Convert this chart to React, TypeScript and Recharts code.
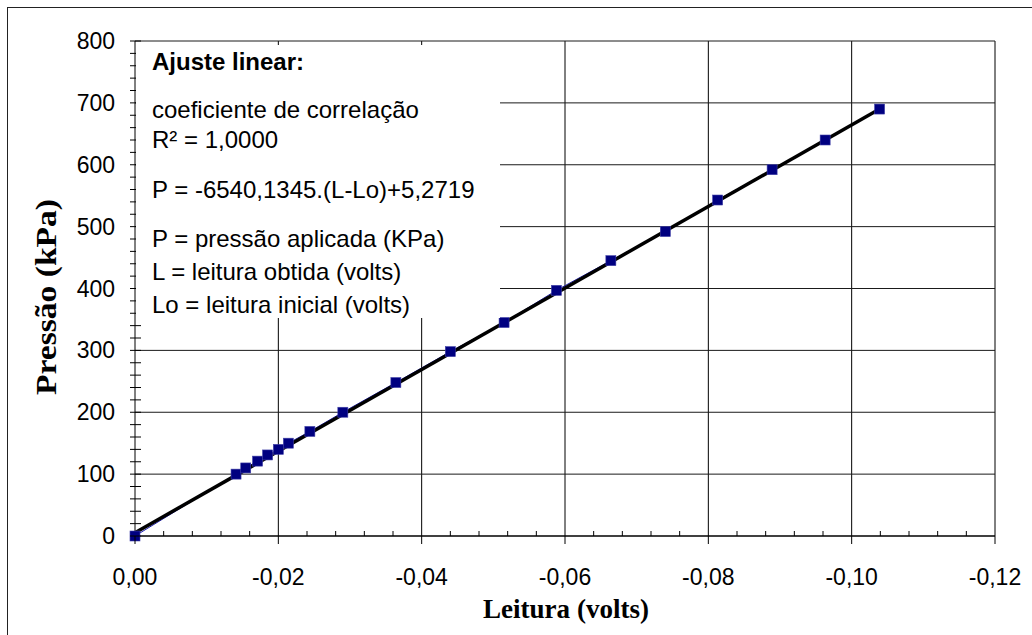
import React from 'react';
import { ComposedChart, Line, XAxis, YAxis, ReferenceLine } from 'recharts';

// Measured readings (volts) and applied pressure (kPa)
const leituraVolts = [0, -0.0141, -0.01545, -0.0171, -0.0185, -0.02, -0.0214, -0.0244, -0.029, -0.0364, -0.044, -0.0515, -0.0588, -0.0664, -0.074, -0.0813, -0.0889, -0.0963, -0.1039];
const pressaoKPa = [0, 100, 110, 121, 131, 140, 150, 169, 200, 248, 298, 345, 397, 445, 492, 543, 592, 640, 690];

// Linear fit line (end points)
const trendLeitura = [0, -0.1039];
const trendPressao = [5.3, 690];

const xMajorTicks = [0, -0.02, -0.04, -0.06, -0.08, -0.1, -0.12];
const yMajorTicks = [0, 100, 200, 300, 400, 500, 600, 700, 800];
const xAllTicks = Array.from({ length: 31 }, (_, k) => Number((-0.004 * k).toFixed(3)));
const yAllTicks = Array.from({ length: 41 }, (_, k) => k * 20);

const annotationTitle = 'Ajuste linear:';
const annotationLines = [
  'coeficiente de correlação',
  'R² = 1,0000',
  'P = -6540,1345.(L-Lo)+5,2719',
  'P = pressão aplicada (KPa)',
  'L = leitura obtida (volts)',
  'Lo = leitura inicial (volts)',
];
const annotationBaselines = [110, 140, 190, 239, 272, 305];

const xTitle = 'Leitura (volts)';
const yTitle = 'Pressão (kPa)';

const measured = leituraVolts.map((x, i) => ({ x, p: pressaoKPa[i] }));
const trend = trendLeitura.map((x, i) => ({ x, p: trendPressao[i] }));

const SANS = '"Liberation Sans", Arial, sans-serif';
const SERIF = '"Liberation Serif", "Times New Roman", serif';

const fmtX = (v: number) => {
  const s = Math.abs(v).toFixed(2).replace('.', ',');
  return Math.abs(v) < 1e-9 ? s : '-' + s;
};

const isMajorX = (v: number) => xMajorTicks.some((t) => Math.abs(t - v) < 1e-7);

const XTick = (props: any) => {
  const { x, y, payload } = props;
  const v = payload.value as number;
  const major = isMajorX(v);
  return (
    <g>
      {major ? (
        <line x1={x} x2={x} y1={y} y2={y + 8} stroke="#000" strokeWidth={1} />
      ) : (
        <line x1={x} x2={x} y1={y - 5} y2={y} stroke="#000" strokeWidth={1} />
      )}
      {major && (
        <text x={x} y={y + 41} textAnchor="middle" dominantBaseline="central" fontFamily={SANS} fontSize={23} fill="#000">
          {fmtX(v)}
        </text>
      )}
    </g>
  );
};

const YTick = (props: any) => {
  const { x, y, payload } = props;
  const v = payload.value as number;
  const major = yMajorTicks.includes(v);
  return (
    <g>
      <line x1={x - 5} x2={x + 6} y1={y} y2={y} stroke="#000" strokeWidth={1} />
      {major && (
        <text x={x - 20} y={y} textAnchor="end" dominantBaseline="central" fontFamily={SANS} fontSize={23} fill="#000">
          {v}
        </text>
      )}
    </g>
  );
};

const SquareDot = (props: any) => {
  const { cx, cy, index } = props;
  if (cx == null || cy == null) return <g key={`d-${index}`} />;
  return <rect key={`d-${index}`} x={cx - 5} y={cy - 5} width={10} height={10} fill="#000080" stroke="#4040a8" strokeWidth={0.6} />;
};

export default function App() {
  return (
    <div
      style={{
        position: 'absolute',
        left: 7,
        top: 7,
        width: 1025,
        height: 628,
        borderTop: '1px solid #222',
        borderLeft: '1px solid #222',
        background: '#fff',
        boxSizing: 'border-box',
      }}
    >
      <div style={{ position: 'absolute', left: 0, top: 0 }}>
        <ComposedChart width={1020} height={620} margin={{ top: 33, right: 33, bottom: 32, left: 67 }}>
          <XAxis
            type="number"
            dataKey="x"
            domain={[-0.12, 0]}
            reversed
            ticks={xAllTicks}
            interval={0}
            tick={XTick}
            tickLine={false}
            tickSize={0}
            tickMargin={0}
            height={60}
            axisLine={{ stroke: '#000', strokeWidth: 1.5 }}
          />
          <YAxis
            type="number"
            domain={[0, 800]}
            ticks={yAllTicks}
            interval={0}
            tick={YTick}
            tickLine={false}
            tickSize={0}
            tickMargin={0}
            width={60}
            axisLine={{ stroke: '#000', strokeWidth: 1 }}
          />
          {xMajorTicks.slice(1).map((v) => (
            <ReferenceLine key={`vx${v}`} x={v} stroke="#000" strokeWidth={1} ifOverflow="visible" />
          ))}
          {yMajorTicks.slice(1).map((v) => (
            <ReferenceLine key={`hy${v}`} y={v} stroke="#1a1a1a" strokeWidth={1} ifOverflow="visible" />
          ))}
          <Line
            data={measured}
            dataKey="p"
            type="linear"
            stroke="#1c1cb0"
            strokeWidth={1}
            dot={SquareDot}
            activeDot={false}
            isAnimationActive={false}
          />
          <Line
            data={trend}
            dataKey="p"
            type="linear"
            stroke="#000"
            strokeWidth={3.5}
            dot={false}
            activeDot={false}
            isAnimationActive={false}
          />
        </ComposedChart>
      </div>
      <svg width={1020} height={620} style={{ position: 'absolute', left: 0, top: 0, pointerEvents: 'none' }}>
        <rect x={128} y={37} width={364} height={273} fill="#fff" />
        <text x={144} y={62} fontFamily={SANS} fontSize={24} fontWeight="bold" fill="#000">
          {annotationTitle}
        </text>
        {annotationLines.map((t, i) => (
          <text key={t} x={144} y={annotationBaselines[i]} fontFamily={SANS} fontSize={24} fill="#000">
            {t}
          </text>
        ))}
        <text
          x={558}
          y={610}
          textAnchor="middle"
          fontFamily={SERIF}
          fontSize={27}
          fontWeight="bold"
          fill="#000"
          textLength={166}
          lengthAdjust="spacingAndGlyphs"
        >
          {xTitle}
        </text>
        <text
          transform={`translate(48, 289) rotate(-90)`}
          textAnchor="middle"
          fontFamily={SERIF}
          fontSize={30}
          fontWeight="bold"
          fill="#000"
          textLength={196}
          lengthAdjust="spacingAndGlyphs"
        >
          {yTitle}
        </text>
      </svg>
    </div>
  );
}
